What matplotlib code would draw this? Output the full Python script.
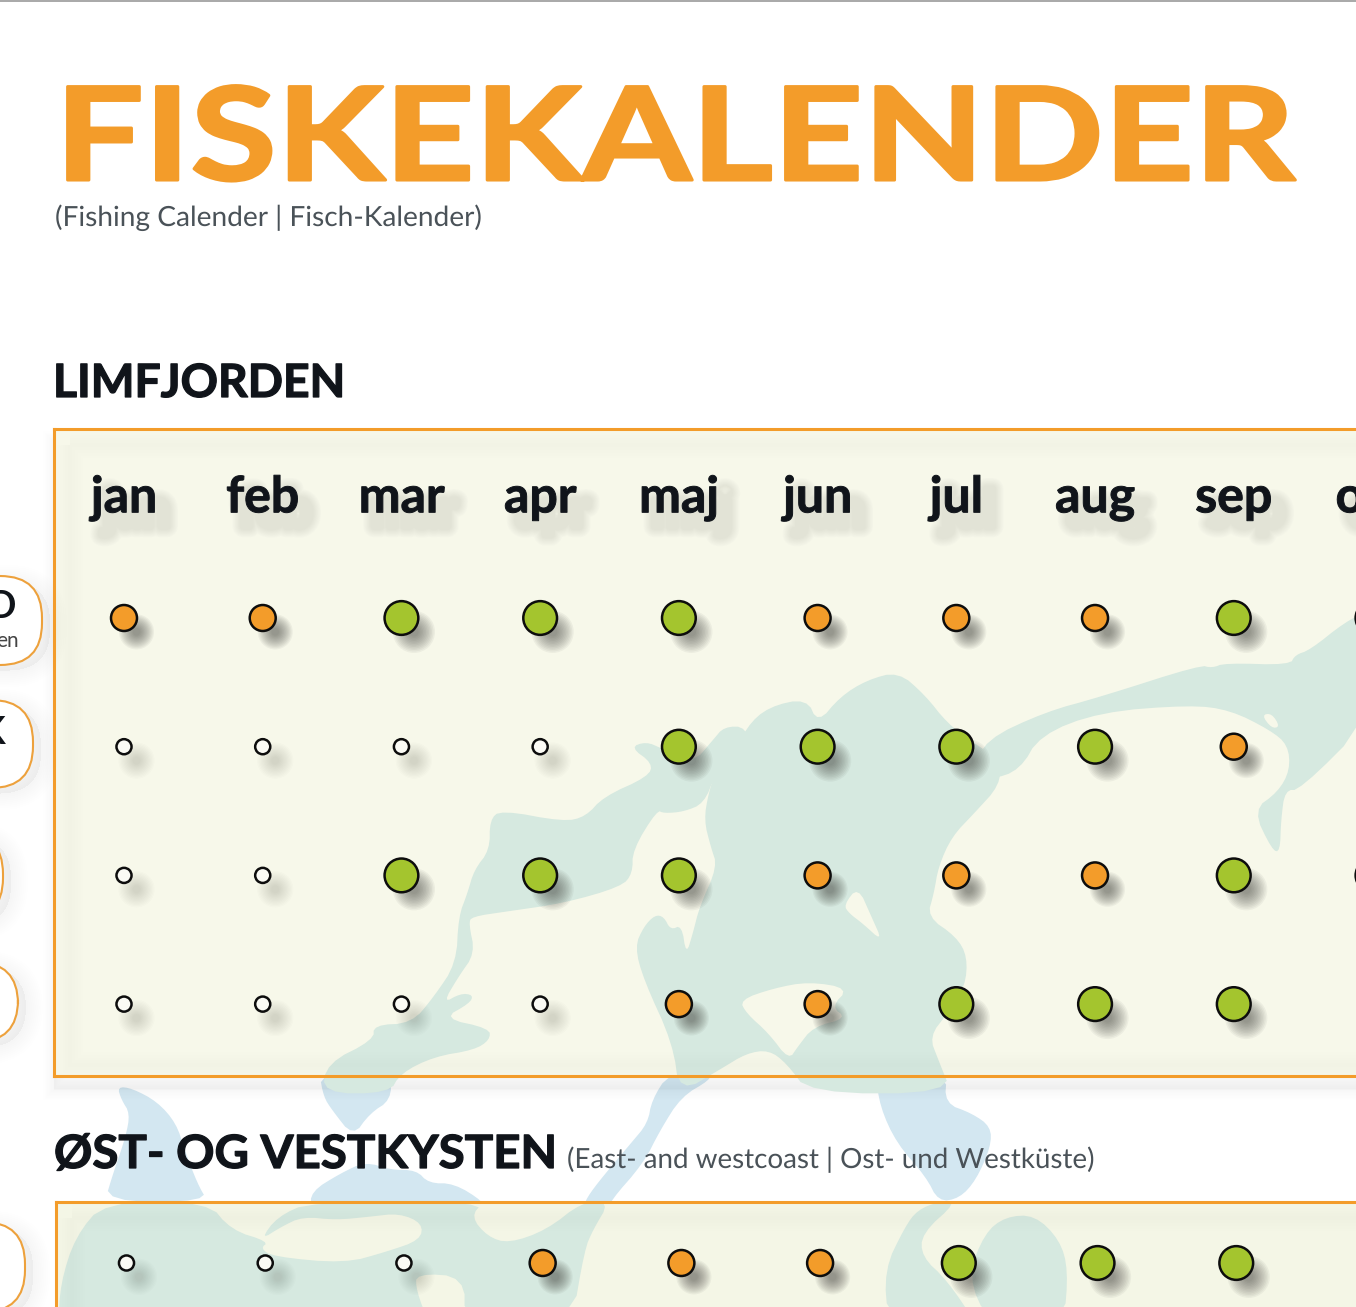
import matplotlib
matplotlib.use("Agg")
import matplotlib.pyplot as plt
from matplotlib.colors import to_rgb
from matplotlib.patches import Polygon, Rectangle, FancyBboxPatch
from matplotlib.patheffects import AbstractPathEffect, Normal
from matplotlib.transforms import Affine2D

W, H = 1356, 1307
ORANGE = "#f39c2a"
GREEN = "#a4c52e"
DARK = "#10141a"
PANEL1 = "#f7f8ea"
PANEL2 = "#f4f6e6"
WATER_P = "#d6e9e0"
WATER_O = "#d3e7f1"

months = ["jan", "feb", "mar", "apr", "maj", "jun", "jul", "aug", "sep", "okt"]
# 0 = poor (small ring), 1 = fair (orange), 2 = good (green)
limfjord_row1 = [1, 1, 2, 2, 2, 1, 1, 1, 2, 2]
limfjord_row2 = [0, 0, 0, 0, 2, 2, 2, 2, 1, 0]
limfjord_row3 = [0, 0, 2, 2, 2, 1, 1, 1, 2, 2]
limfjord_row4 = [0, 0, 0, 0, 1, 1, 2, 2, 2, 0]
kyst_row1 = [0, 0, 0, 1, 1, 1, 2, 2, 2, 0]

SIZES = {0: 118, 1: 350, 2: 590}
FACES = {0: "#fbfbf5", 1: ORANGE, 2: GREEN}
SHADOW_ALPHA = {0: 0.016, 1: 0.055, 2: 0.055}
SHADOW_SCALE = {0: 2.4, 1: 1.35, 2: 1.25}


class MarkerShadow(AbstractPathEffect):
    """Radial soft shadow: the marker path itself, shrunk step by step."""
    def __init__(self, offset=(9, -10), color="#3c3c38", alpha=0.06, max_scale=1.25, n=12):
        super().__init__(offset)
        self.color, self.alpha, self.max_scale, self.n = to_rgb(color), alpha, max_scale, n

    def draw_path(self, renderer, gc, tpath, affine, rgbFace=None):
        gc0 = renderer.new_gc()
        gc0.copy_properties(gc)
        gc0.set_alpha(self.alpha)
        gc0.set_linewidth(0)
        for i in range(self.n):
            k = self.max_scale * (1 - 0.85 * i / self.n)
            tr = Affine2D().scale(k) + affine + self._offset_transform(renderer)
            renderer.draw_path(gc0, tpath, tr, self.color)
        gc0.restore()


class StrokeShadow(AbstractPathEffect):
    """Haze made of widening strokes, without a sharp filled core."""
    def __init__(self, offset=(8, -9), color="#777770", alpha=0.02, spread=10, n=9, core=0.0, fill=True):
        super().__init__(offset)
        self.color, self.alpha, self.spread, self.n = to_rgb(color), alpha, spread, n
        self.core, self.fill = core, fill

    def draw_path(self, renderer, gc, tpath, affine, rgbFace=None):
        gc0 = renderer.new_gc()
        gc0.copy_properties(gc)
        gc0.set_foreground(self.color)
        gc0.set_alpha(self.alpha)
        for i in range(self.n):
            gc0.set_linewidth(self.core + (self.spread - self.core) * (1 - i / self.n))
            renderer.draw_path(gc0, tpath, affine + self._offset_transform(renderer),
                               self.color if self.fill else None)
        gc0.restore()


class Wide(AbstractPathEffect):
    """Draw text stretched horizontally from its origin, optionally emboldened."""
    def __init__(self, sx=1.0, lw=0.0):
        super().__init__()
        self.sx, self.lw = sx, lw

    def draw_path(self, renderer, gc, tpath, affine, rgbFace=None):
        gc0 = renderer.new_gc()
        gc0.copy_properties(gc)
        if self.lw:
            gc0.set_foreground(rgbFace)
        gc0.set_linewidth(self.lw)
        renderer.draw_path(gc0, tpath, Affine2D().scale(self.sx, 1) + affine, rgbFace)
        gc0.restore()


def z3(p):
    return [(1100 + x / 3, 420 + y / 3) for x, y in p]
def z4(p):
    return [(300 + x / 2.24, 660 + y / 3) for x, y in p]
def z5(p):
    return [(50 + x / 2.376, 1070 + y / 3) for x, y in p]
def z6(p):
    return [(700 + x / 2.39, 1070 + y / 3) for x, y in p]


def smooth(points, rounds=2):
    pts = list(points)
    for _ in range(rounds):
        out = []
        for i, (x0, y0) in enumerate(pts):
            x1, y1 = pts[(i + 1) % len(pts)]
            out.append((0.75 * x0 + 0.25 * x1, 0.75 * y0 + 0.25 * y1))
            out.append((0.25 * x0 + 0.75 * x1, 0.25 * y0 + 0.75 * y1))
        pts = out
    return pts


main_basin = z4([(1340,35),(1400,105),(1450,190),(1510,250),(1568,300),(1568,375),(1510,460),(1460,530),(1430,620),(1420,700),(1405,770),(1470,830),(1495,890),(1490,980),(1450,1060),(1410,1130),(1430,1200),(1460,1300),(1140,1300),(1090,1210),(1050,1170),(1000,1180),(945,1225),(850,1300),(835,1150),(770,960),(750,860),(770,800),(795,765),(815,770),(830,810),(855,795),(865,885),(880,820),(895,740),(935,620),(920,560),(905,480),(915,400),(930,340),(965,305),(1000,200),(1050,140),(1135,115),(1160,190),(1210,110),(1270,60)])
west_arm = z4([(740,262),(775,245),(810,265),(880,310),(925,240),(950,200),(1000,200),(1020,300),(965,305),(930,345),(905,430),(860,455),(815,460),(800,450),(745,570),(745,640),(720,680),(590,730),(460,755),(385,770),(378,790),(392,880),(355,950),(320,1030),(360,1000),(388,1005),(380,1030),(320,1075),(425,1105),(425,1140),(390,1170),(300,1190),(225,1240),(200,1300),(50,1300),(60,1210),(165,1140),(165,1095),(250,1090),(300,1010),(350,910),(355,770),(375,700),(390,630),(425,570),(425,480),(450,450),(590,485),(640,470),(680,410),(780,350),(790,310)])
east_arm = [(985,740),(1045,712),(1100,697),(1200,665),(1212,668),(1225,663),(1290,665),(1295,655),(1310,650),(1345,622),(1370,610),(1370,720),(1300,790),(1285,790),(1281,820),(1280,852),(1272,850),(1253,810),(1278,792),(1290,770),(1288,745),(1270,730),(1230,710),(1190,705),(1100,712),(1040,735),(1020,770),(990,780),(975,770)]
land_island = z4([(985,1020),(1060,985),(1140,965),(1230,985),(1190,1040),(1225,1075),(1150,1100),(1115,1160),(1095,1200),(1050,1120),(1000,1060)])
land_small = z4([(1218,735),(1250,680),(1280,770),(1305,845),(1260,790),(1230,760)])
land_east = z3([(485,885),(515,880),(540,920),(515,925)])

peninsula = z5([(160,50),(195,55),(255,95),(300,160),(320,240),(350,340),(375,395),(130,395),(150,310),(180,200),(190,130),(170,90)])
blob_top = z5([(640,10),(810,10),(810,90),(760,130),(720,200),(670,120),(650,80)])
fan = z5([(620,365),(690,310),(750,275),(810,300),(870,300),(900,340),(960,340),(1030,395),(1030,420),(620,420)])
strip = z5([(1470,10),(1568,10),(1568,30),(1500,80),(1450,180),(1410,280),(1330,395),(1330,420),(1270,420),(1270,395),(1300,340),(1380,220),(1420,160),(1430,90)])
big_east = z6([(420,10),(590,10),(585,100),(650,130),(695,170),(695,230),(660,330),(620,385),(570,395),(540,320),(470,220),(430,110)])
kyst_left = z5([(130,395),(375,395),(430,480),(520,515),(500,535),(530,560),(700,580),(800,545),(880,510),(885,460),(830,430),(760,440),(680,450),(600,440),(550,470),(500,510),(540,440),(620,395),(1030,395),(1000,440),(1040,500),(1090,520),(1180,480),(1265,395),(1330,395),(1290,480),(1270,540),(1240,760),(985,760),(985,620),(870,610),(870,660),(900,760),(20,760),(25,640),(60,500)])
kyst_mid = z6([(570,395),(615,395),(530,490),(530,560),(590,630),(660,760),(450,760),(440,600),(490,470),(520,420)])
kyst_east = z6([(730,440),(800,435),(860,510),(880,600),(870,760),(690,760),(640,620),(680,490)])

fig = plt.figure(figsize=(W / 100, H / 100), dpi=100, facecolor="white")
plt.rcParams["font.family"] = ["Lato", "DejaVu Sans"]

bg = fig.add_axes([0, 0, 1, 1], zorder=0)
bg.set_xlim(0, W)
bg.set_ylim(H, 0)
bg.axis("off")
bg.plot([0, W], [0.5, 0.5], color="#9a9a9a", lw=1.2, zorder=10)

# pills on the left, running off the page
for right, top, bottom in [(42, 576, 665), (33, 700, 788), (3, 832, 920), (18, 962, 1042), (25, 1222, 1312)]:
    p = FancyBboxPatch((right - 200, top), 200, bottom - top,
                       boxstyle="round,pad=0,rounding_size=42", fc="white", ec="#eda13c", lw=1.5, zorder=4)
    p.set_path_effects([StrokeShadow(offset=(6, -4), color="#888888", alpha=0.005, spread=24, n=9), Normal()])
    bg.add_patch(p)
bg.text(16, 618, "D", ha="right", va="baseline", fontsize=27, fontweight="bold", color=DARK, zorder=5)
bg.text(19, 647, "en", ha="right", va="baseline", fontsize=15, color="#444444", zorder=5)
bg.text(6, 744, "K", ha="right", va="baseline", fontsize=27, fontweight="bold", color=DARK, zorder=5)

# map outside the panels
for poly in [peninsula, blob_top, fan, strip, big_east]:
    bg.add_patch(Polygon(smooth(poly), closed=True, fc=WATER_O, ec="none", zorder=1))

panel1 = Rectangle((54, 429), 1400, 647, fc=PANEL1, ec="none", zorder=2)
panel1.set_path_effects([StrokeShadow(offset=(0, -9), color="#aaaaaa", alpha=0.006, spread=16, n=8), Normal()])
bg.add_patch(panel1)
panel2 = Rectangle((56, 1202), 1400, 200, fc=PANEL2, ec="none", zorder=2)
bg.add_patch(panel2)

# map inside the panels
for poly in [main_basin, west_arm, east_arm]:
    bg.add_patch(Polygon(smooth(poly), closed=True, fc=WATER_P, ec="none", zorder=3, clip_path=panel1))
for poly in [land_island, land_small, land_east]:
    bg.add_patch(Polygon(smooth(poly), closed=True, fc=PANEL1, ec="none", zorder=3, clip_path=panel1))
for poly in [kyst_left, kyst_mid, kyst_east]:
    bg.add_patch(Polygon(smooth(poly), closed=True, fc=WATER_P, ec="none", zorder=3, clip_path=panel2))

# faint soft band inside the panels
for panel, (x, y, w, h) in [(panel1, (70, 445, 1400, 620)), (panel2, (72, 1218, 1400, 200))]:
    for lw in (3, 7, 11, 15, 19):
        bg.add_patch(Rectangle((x, y), w, h, fill=False, ec="#8a8a70", lw=lw, alpha=0.005,
                               zorder=3.5, clip_path=panel))

# titles
t = bg.text(55, 180, "FISKEKALENDER", fontsize=93, fontweight="bold", color=ORANGE, va="baseline", zorder=6)
t.set_path_effects([Wide(sx=1.216, lw=2.2)])
t = bg.text(55, 226, "(Fishing Calender | Fisch-Kalender)", fontsize=20, color="#4a5258", va="baseline", zorder=6)
t.set_path_effects([Wide(sx=1.012)])
t = bg.text(53, 397, "LIMFJORDEN", fontsize=33, fontweight="bold", color=DARK, va="baseline", zorder=6)
t.set_path_effects([Wide(sx=1.01, lw=0.9)])
t = bg.text(54, 1168, "ØST- OG VESTKYSTEN", fontsize=33, fontweight="bold", color=DARK, va="baseline", zorder=6)
t.set_path_effects([Wide(sx=1.036, lw=0.9)])
t = bg.text(567, 1168, "(East- and westcoast | Ost- und Westküste)", fontsize=20, color="#4a5258", va="baseline", zorder=6)
t.set_path_effects([Wide(sx=1.0)])

RIGHT = W + 90  # the panels run off the page on the right


def make_axes(x0, x_first, x_step, top, bottom, y_first, y_step):
    ax = fig.add_axes([x0 / W, 1 - bottom / H, (RIGHT - x0) / W, (bottom - top) / H], zorder=2)
    ax.patch.set_alpha(0)
    ax.set_xticks(range(len(months)), months)
    ax.set_yticks([])
    ax.set_xlim((x0 - x_first) / x_step, (RIGHT - x_first) / x_step)
    ax.set_ylim((bottom - y_first) / y_step, (top - y_first) / y_step)
    ax.spines["right"].set_visible(False)
    for s in ax.spines.values():
        s.set_color(ORANGE)
        s.set_linewidth(2.2)
    return ax


def draw_rows(ax, rows):
    for level in (0, 1, 2):
        xs, ys = [], []
        for r, row in enumerate(rows):
            for m, v in enumerate(row):
                if v == level:
                    xs.append(m)
                    ys.append(r)
        sc = ax.scatter(xs, ys, s=SIZES[level], c=FACES[level], edgecolors="#0d0d0d", linewidths=1.8, zorder=3)
        sc.set_path_effects([MarkerShadow(alpha=SHADOW_ALPHA[level], max_scale=SHADOW_SCALE[level]), Normal()])


ax1 = make_axes(54, 124, 138.72, 429, 1076, 618, 128.7)
draw_rows(ax1, [limfjord_row1, limfjord_row2, limfjord_row3, limfjord_row4])
ax1.tick_params(axis="x", bottom=False, top=True, length=0, labelbottom=False, labeltop=True,
                pad=-60, labelsize=36)
for t in ax1.get_xticklabels():
    t.set_fontweight("bold")
    t.set_color(DARK)
    t.set_va("baseline")
    t.set_path_effects([StrokeShadow(offset=(9, -10), alpha=0.014, spread=16, n=10, core=4, fill=False),
                        Wide(sx=1.0, lw=0.7)])

ax2 = make_axes(56, 126.5, 138.72, 1202, H + 20, 1263, 128.7)
ax2.spines["bottom"].set_visible(False)
ax2.set_xticks([])
draw_rows(ax2, [kyst_row1])

fig.savefig("out.png", dpi=100, facecolor="white")
